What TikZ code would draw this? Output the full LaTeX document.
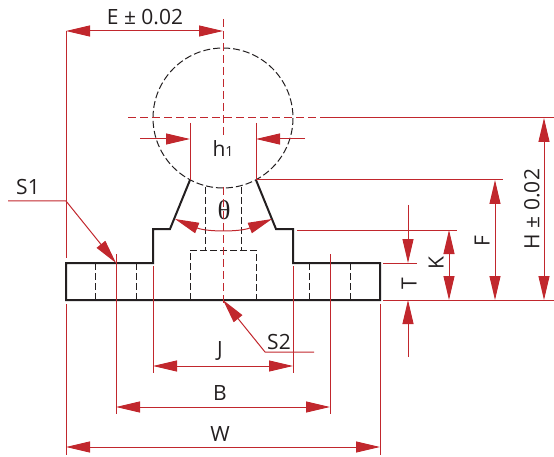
\documentclass[tikz,border=0pt]{standalone}
\usepackage{fontspec}
\setmainfont{Open Sans}
\newfontfamily\thetafont{Liberation Serif}
\usetikzlibrary{arrows.meta}
\definecolor{dimred}{HTML}{C1272D}
\definecolor{inkblack}{HTML}{231F20}
\tikzset{
  lbl/.style={inner sep=0pt, text=inkblack, font=\fontsize{21}{21}\selectfont},
  outline/.style={draw=inkblack, line width=2pt, line join=miter},
  hidden/.style={draw=inkblack, line width=1pt, dash pattern=on 7pt off 3pt},
  redline/.style={draw=dimred, line width=1pt},
  centreline/.style={redline, dash pattern=on 8pt off 4pt},
  both/.style={redline, {Triangle[length=24pt,width=11pt]}-{Triangle[length=24pt,width=11pt]}, dimred},
  tipend/.style={redline, -{Triangle[length=24pt,width=11pt]}, dimred}
}
\begin{document}
\begin{tikzpicture}[x=1pt, y=-1pt]
  \useasboundingbox (0, 0) rectangle (554, 457);

  \node[lbl] (e) at (145, 17) {E ± 0.02};
  \node[lbl] (h) at (223, 149) {h\fontsize{14}{14}\selectfont 1};
  \node[lbl, font=\fontsize{27}{27}\thetafont] (theta) at (224, 210) {θ};
  \node[lbl] (s1) at (28, 187) {S1};
  \node[lbl] (s2) at (279, 342) {S2};
  \node[lbl] (j) at (220, 351) {J};
  \node[lbl] (b) at (220, 393) {B};
  \node[lbl] (w) at (220, 434) {W};
  \node[lbl, rotate=90] (t) at (409, 284) {T};
  \node[lbl, rotate=90] (k) at (436, 263) {K};
  \node[lbl, rotate=90] (f) at (482, 241) {F};
  \node[lbl, rotate=90] (hh) at (532, 209) {H ± 0.02};

  % part
  \draw[hidden] (223, 118) circle (70);
  \draw[hidden] (205, 187) -- (205, 250) (241, 187) -- (241, 250);
  \draw[hidden] (190, 300) -- (190, 250) -- (256, 250) -- (256, 300);
  \draw[hidden] (95, 263) -- (95, 300) (136, 263) -- (136, 300);
  \draw[hidden] (309, 263) -- (309, 300) (350, 263) -- (350, 300);
  \draw[outline] (190, 180) -- (170, 229) -- (153, 229) -- (153, 263) -- (66, 263)
    -- (66, 300) -- (380, 300) -- (380, 263) -- (293, 263) -- (293, 229) -- (276, 229) -- (256, 180);

  % centre lines
  \draw[centreline] (223, 19) -- (223, 135);
  \draw[centreline] (223, 187) -- (223, 307);
  \draw[centreline] (128, 118) -- (322, 118);

  % extension lines
  \draw[redline] (66, 31) -- (66, 258);
  \draw[redline] (66, 304) -- (66, 455);
  \draw[redline] (380, 304) -- (380, 455);
  \draw[redline] (190, 123) -- (190, 180);
  \draw[redline] (256, 123) -- (256, 180);
  \draw[redline] (322, 118) -- (554, 118);
  \draw[redline] (256, 180) -- (503, 180);
  \draw[redline] (297, 230) -- (457, 230);
  \draw[redline] (383, 263) -- (417, 263);
  \draw[redline] (383, 300) -- (554, 300);
  \draw[redline] (153, 266) -- (153, 373);
  \draw[redline] (293, 266) -- (293, 373);
  \draw[redline] (116, 254) -- (116, 414);
  \draw[redline] (330, 254) -- (330, 414);

  % dimensions
  \draw[both] (66, 31) -- (223, 31);
  \draw[tipend] (140, 139) -- (190, 139);
  \draw[tipend] (305, 139) -- (256, 139);
  \draw[both] (175, 219) .. controls (207, 232) and (240, 232) .. (272, 219);
  \draw[both] (153, 366) -- (293, 366);
  \draw[both] (116, 407) -- (330, 407);
  \draw[both] (66, 447) -- (380, 447);
  \draw[both] (449, 230) -- (449, 300);
  \draw[both] (495, 180) -- (495, 300);
  \draw[both] (544, 118) -- (544, 300);
  \draw[tipend] (408, 205) -- (408, 263);
  \draw[tipend] (408, 357) -- (408, 300);

  % leaders
  \draw[tipend] (8, 201) -- (66, 201) -- (116, 263);
  \draw[tipend] (314, 352) -- (265, 352) -- (223, 300);
\end{tikzpicture}
\end{document}
